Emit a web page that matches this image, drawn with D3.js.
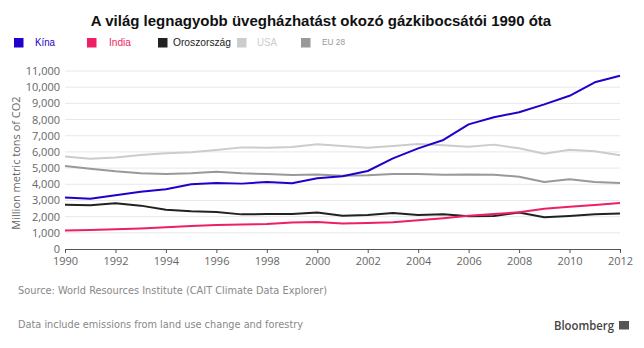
<!DOCTYPE html>
<html><head><meta charset="utf-8">
<script src="https://cdn.jsdelivr.net/npm/d3@7"></script>
<style>body{margin:0;background:#fff;}svg{display:block;}</style>
</head><body><svg id="c" width="644" height="348"></svg>
<script>
const years = d3.range(1990, 2013);
const china  = [3190,3110,3320,3540,3690,4000,4080,4040,4140,4060,4370,4490,4820,5600,6220,6740,7700,8140,8450,8940,9470,10300,10710];
const india  = [1150,1180,1220,1270,1340,1420,1480,1510,1550,1640,1670,1570,1610,1650,1770,1900,2060,2160,2270,2490,2610,2720,2840];
const russia = [2740,2700,2820,2680,2430,2330,2290,2140,2160,2160,2250,2060,2100,2220,2100,2140,2020,2040,2250,1960,2040,2140,2200];
const usa    = [5710,5580,5660,5810,5910,5980,6120,6280,6260,6300,6470,6370,6260,6370,6490,6410,6320,6450,6220,5890,6140,6040,5790];
const eu     = [5130,4960,4800,4680,4630,4680,4780,4680,4630,4570,4610,4530,4550,4630,4630,4590,4610,4590,4470,4140,4310,4140,4080];
const seriesNames  = ["Kína","India","Oroszország","USA","EU 28"];
const seriesValues = [china, india, russia, usa, eu];
const seriesColors = ["#2200cc","#ee1f63","#222222","#cccccc","#999999"];
const yTicks = d3.range(0, 11001, 1000);
const xTicks = d3.range(1990, 2013, 2);

const svg = d3.select("#c");
const x = d3.scaleLinear().domain([1990, 2012]).range([65, 620]);
const y = d3.scaleLinear().domain([0, 11000]).range([249, 71]);

svg.append("text").attr("x", 321).attr("y", 26).attr("text-anchor","middle")
  .attr("font-family","Liberation Sans, Arial, sans-serif").attr("font-weight","bold")
  .attr("font-size",15).attr("fill","#111")
  .text("A világ legnagyobb üvegházhatást okozó gázkibocsátói 1990 óta");

// legend
const legX = [14, 87, 158, 237, 301];
const legTextX = [35, 109, 173, 257, 322];
const legW = [20, 22, 58, 20, 23];
const legSize = [10.5, 10.5, 10.5, 10.5, 9.5];
seriesNames.forEach((n,i)=>{
  svg.append("rect").attr("x",legX[i]).attr("y",38).attr("width",9.5).attr("height",9.5).attr("fill",seriesColors[i]);
  svg.append("text").attr("x",legTextX[i]).attr("y", i===4 ? 44.5 : 46)
    .attr("font-family","Liberation Sans, Arial, sans-serif").attr("font-size",legSize[i])
    .attr("textLength",legW[i]).attr("lengthAdjust","spacingAndGlyphs")
    .attr("fill", seriesColors[i]).text(n);
});

// grid
svg.append("g").selectAll("line").data(yTicks.slice(1)).join("line")
  .attr("x1",65).attr("x2",620).attr("y1",d=>y(d)).attr("y2",d=>y(d))
  .attr("stroke","#e8e8e8").attr("stroke-width",1);

// y axis labels
const ya = svg.append("g").attr("transform","translate(65,0)")
  .call(d3.axisLeft(y).tickValues(yTicks).tickSize(0).tickPadding(5).tickFormat(d3.format(",")));
ya.select(".domain").remove();
ya.selectAll("text").attr("font-family","Open Sans, sans-serif").attr("font-size",11).attr("fill","#666");

// x axis
const xa = svg.append("g").attr("transform","translate(0,249)")
  .call(d3.axisBottom(x).tickValues(xTicks).tickSize(4).tickPadding(4).tickFormat(d3.format("d")));
xa.select(".domain").attr("stroke","#555").attr("d","M65,0.5H620");
xa.selectAll(".tick line").attr("stroke","#555");
xa.selectAll("text").attr("font-family","Open Sans, sans-serif").attr("font-size",11).attr("fill","#666");

// y title
svg.append("text").attr("transform","translate(20,163) rotate(-90)").attr("text-anchor","middle")
  .attr("font-family","Open Sans, sans-serif").attr("font-size",11).attr("fill","#666")
  .text("Million metric tons of CO2");

// lines (draw order: USA, EU, Russia, India, China)
const line = d3.line().x((d,i)=>x(years[i])).y(d=>y(d));
[3,4,2,1,0].forEach(i=>{
  svg.append("path").datum(seriesValues[i]).attr("d",line).attr("fill","none")
    .attr("stroke",seriesColors[i]).attr("stroke-width",2).attr("stroke-linejoin","round");
});

// footer
svg.append("text").attr("x",18).attr("y",294).attr("font-family","DejaVu Sans, sans-serif")
  .attr("font-size",10).attr("fill","#888").attr("textLength",309).attr("lengthAdjust","spacingAndGlyphs")
  .text("Source: World Resources Institute (CAIT Climate Data Explorer)");
svg.append("text").attr("x",18).attr("y",328).attr("font-family","DejaVu Sans, sans-serif")
  .attr("font-size",10).attr("fill","#888").attr("textLength",285).attr("lengthAdjust","spacingAndGlyphs")
  .text("Data include emissions from land use change and forestry");
svg.append("text").attr("x",554).attr("y",330).attr("font-family","Open Sans, sans-serif")
  .attr("font-weight","600").attr("font-size",12).attr("fill","#444")
  .attr("textLength",60).attr("lengthAdjust","spacingAndGlyphs")
  .text("Bloomberg");
svg.append("rect").attr("x",619).attr("y",321).attr("width",10).attr("height",8.5).attr("fill","#555");
</script></body></html>
